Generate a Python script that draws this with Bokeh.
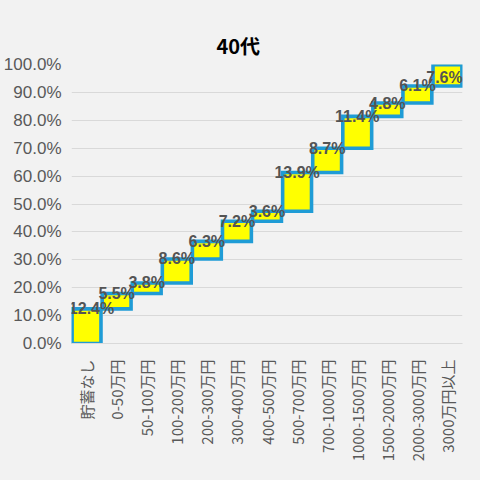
import numpy as np
from bokeh.plotting import figure
from bokeh.models import (ColumnDataSource, FactorRange, Range1d, PrintfTickFormatter,
                          FixedTicker, GlobalInlineStyleSheet)
from bokeh.core.properties import value
from bokeh.embed import file_html
from bokeh.resources import INLINE

title_text = "40代"
categories = ["貯蓄なし", "0-50万円", "50-100万円", "100-200万円", "200-300万円",
              "300-400万円", "400-500万円", "500-700万円", "700-1000万円",
              "1000-1500万円", "1500-2000万円", "2000-3000万円", "3000万円以上"]
shares = [12.4, 5.5, 3.8, 8.6, 6.3, 7.2, 3.6, 13.9, 8.7, 11.4, 4.8, 6.1, 7.6]
y_ticks = [0, 10, 20, 30, 40, 50, 60, 70, 80, 90, 100]

ends = np.cumsum(shares)
starts = ends - np.array(shares)
label_y = np.minimum(ends, 95.3)
# keep the end labels inside the plot area, as the original does
label_dx = [5] + [0] * (len(shares) - 2) + [-3]

src = ColumnDataSource(dict(
    cat=categories, bottom=starts, top=ends, ly=label_y, dx=label_dx,
    txt=[f"{v:.1f}%" for v in shares]))

BG = "#f2f2f2"
p = figure(width=464, height=464, output_backend="svg", toolbar_location=None,
           x_range=FactorRange(*categories, range_padding=0),
           y_range=Range1d(0, 100),
           min_border_left=65, min_border_right=2, min_border_top=64,
           min_border_bottom=120)
p.stylesheets = [GlobalInlineStyleSheet(css="body{background:#f2f2f2;}")]
p.background_fill_color = BG
p.border_fill_color = BG
p.outline_line_color = None

p.title.text = title_text
p.title.align = "left"
p.title.text_font = "Noto Sans CJK JP"
p.title.text_font_size = "20px"
p.title.text_font_style = "bold"
p.title.text_color = "#000000"
p.title.text_line_height = 1.15
p.title.offset = 145

p.vbar(x="cat", bottom="bottom", top="top", width=0.96, source=src,
       fill_color="#ffff00", line_color="#1f9cd6", line_width=3.6,
       line_join="miter")

p.text(x="cat", y="ly", text="txt", source=src, x_offset="dx",
       text_align="center", text_baseline="alphabetic",
       text_font=value("Liberation Sans"), text_font_style="bold",
       text_font_size="16px", text_color="#545454")

p.xgrid.grid_line_color = None
p.ygrid.grid_line_color = "#d9d9d9"
p.ygrid.grid_line_width = 1

p.yaxis.ticker = FixedTicker(ticks=y_ticks)
p.yaxis.formatter = PrintfTickFormatter(format="%.1f%%")
p.yaxis.axis_line_color = None
p.yaxis.major_tick_line_color = None
p.yaxis.minor_tick_line_color = None
p.yaxis.major_label_text_font = "Liberation Sans"
p.yaxis.major_label_text_font_size = "17px"
p.yaxis.major_label_text_color = "#595959"
p.yaxis.major_label_standoff = 4

p.xaxis.axis_line_color = "#d9d9d9"
p.xaxis.major_tick_line_color = None
p.xaxis.minor_tick_line_color = None
p.xaxis.major_label_orientation = np.pi / 2
p.xaxis.major_label_text_font = "Noto Sans CJK JP"
p.xaxis.major_label_text_font_size = "15px"
p.xaxis.major_label_text_color = "#595959"
p.xaxis.major_label_standoff = 10

open("out.html", "w").write(file_html(p, INLINE))
